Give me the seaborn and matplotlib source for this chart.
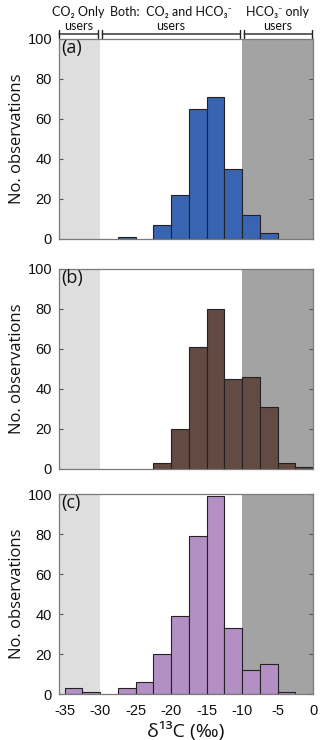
import numpy as np
import matplotlib
matplotlib.use("Agg")
import matplotlib.pyplot as plt
import matplotlib.transforms as mtransforms
import seaborn as sns

# bin edges of delta13C (per mil), 2.5 wide
bin_edges = [-35, -32.5, -30, -27.5, -25, -22.5, -20, -17.5, -15, -12.5, -10, -7.5, -5, -2.5, 0]

# counts per bin
counts_a = [0, 0, 0, 1, 0, 7, 22, 65, 71, 35, 12, 3, 0, 0]
counts_b = [0, 0, 0, 0, 0, 3, 20, 61, 80, 45, 46, 31, 3, 1]
counts_c = [3, 1, 0, 3, 6, 20, 39, 79, 99, 33, 12, 15, 1, 0]

panel_labels = ["(a)", "(b)", "(c)"]
bar_colors = ["#3864b2", "#634a43", "#b48fc4"]
y_ticks = [0, 20, 40, 60, 80, 100]
x_ticks = [-35, -30, -25, -20, -15, -10, -5, 0]

sns.set_theme(style="white")
plt.rcParams['font.family'] = ['Open Sans', 'DejaVu Sans']
plt.rcParams['text.color'] = '#111111'
plt.rcParams['axes.labelcolor'] = '#111111'
plt.rcParams['xtick.color'] = '#111111'
plt.rcParams['ytick.color'] = '#111111'

LIGHT = "#dddedd"
DARK = "#a3a3a3"
SPINE = "#7a7a7a"
TICKFONT = ['Liberation Sans', 'DejaVu Sans']
NOTEFONT = ['Lato', 'DejaVu Sans']

W, H = 320, 740
fig = plt.figure(figsize=(W / 100, H / 100), dpi=100)

# axes boxes in pixels: (top, bottom)
boxes = [(39, 239), (269, 469), (494, 694)]
left_px, right_px = 59, 313

centers = [(bin_edges[i] + bin_edges[i + 1]) / 2 for i in range(len(bin_edges) - 1)]
axes = []
for i, (counts, color, label) in enumerate(zip([counts_a, counts_b, counts_c], bar_colors, panel_labels)):
    top, bottom = boxes[i]
    ax = fig.add_axes([left_px / W, 1 - bottom / H, (right_px - left_px) / W, (bottom - top) / H])
    axes.append(ax)
    ax.set_xlim(-35.8, 0)
    ax.set_ylim(0, 100)
    # shaded user zones
    ax.axvspan(-35.8, -30, color=LIGHT, lw=0, zorder=0)
    ax.axvspan(-10, 0, color=DARK, lw=0, zorder=0)
    sns.histplot(x=centers, weights=counts, bins=bin_edges, ax=ax,
                 color=color, alpha=1, edgecolor="#222222", linewidth=0.8, zorder=2)
    # drop empty bins so they do not leave a line on the baseline
    for p in list(ax.patches):
        if hasattr(p, "get_height") and p.get_height() == 0 and p.get_zorder() == 2:
            p.remove()
    for s in ax.spines.values():
        s.set_color(SPINE)
        s.set_linewidth(0.9)
        s.set_zorder(3)
    ax.set_yticks(y_ticks)
    ax.set_yticklabels([str(t) for t in y_ticks], family=TICKFONT, fontsize=10.5)
    ax.tick_params(axis="y", left=True, right=True, direction="in", length=3,
                   width=0.8, color="#555555", pad=5)
    ax.set_xticks(x_ticks)
    if i < 2:
        ax.tick_params(axis="x", bottom=False, labelbottom=False)
        ax.set_xlabel("")
    else:
        ax.tick_params(axis="x", bottom=False, pad=1)
        ax.set_xticklabels([str(t) for t in x_ticks], family=TICKFONT, fontsize=10.5)
        ax.set_xlabel("δ¹³C (‰)", fontsize=14, labelpad=3)
    ax.set_ylabel("No. observations", fontsize=12, labelpad=2)
    ax.text(0.01, 1.0, label, transform=ax.transAxes, ha="left", va="top",
            fontsize=13, zorder=4)

# bracket annotations above the top panel
ax = axes[0]
trans = mtransforms.blended_transform_factory(ax.transData, ax.transAxes)
bracket_y = 1.025
segments = [(-35.8, -30.3, "CO₂ Only\nusers"),
            (-29.7, -10.3, "Both:  CO₂ and HCO₃⁻\nusers"),
            (-9.7, -0.2, "HCO₃⁻ only\nusers")]
for x0, x1, txt in segments:
    ax.annotate("", xy=(x0, bracket_y), xytext=(x1, bracket_y), xycoords=trans,
                textcoords=trans, annotation_clip=False,
                arrowprops=dict(arrowstyle="|-|,widthA=0.25,widthB=0.25", color="#222222",
                                lw=1, shrinkA=0, shrinkB=0))
    ax.text((x0 + x1) / 2, bracket_y + 0.01, txt, transform=trans, ha="center", va="bottom",
            family=NOTEFONT, fontsize=9, linespacing=1.15, clip_on=False)

fig.savefig("out.png", dpi=100)
plt.close(fig)
